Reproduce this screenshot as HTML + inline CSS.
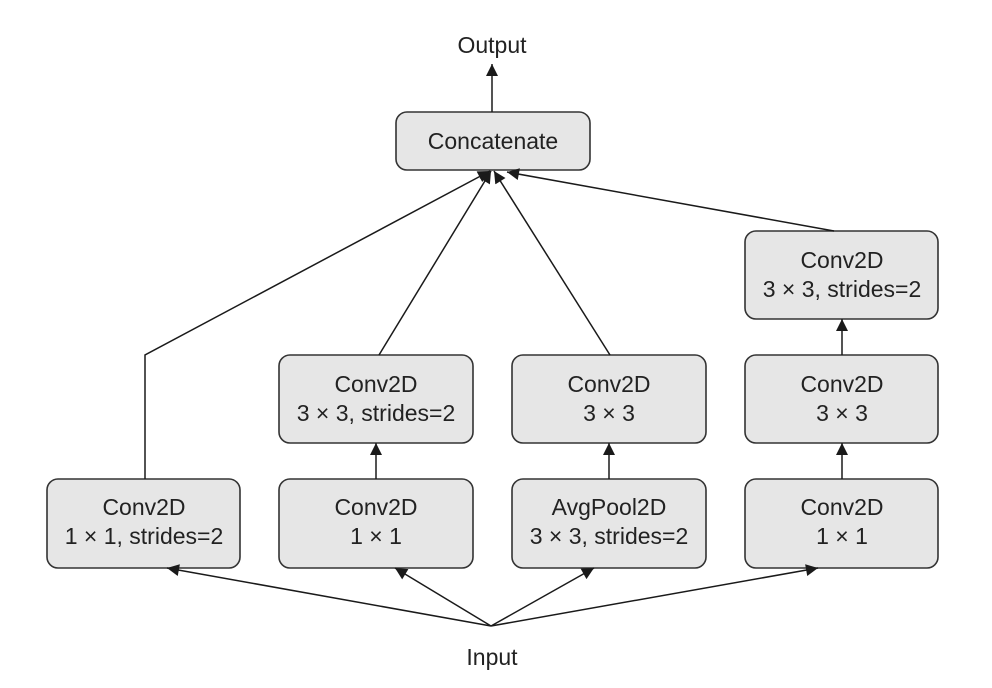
<!DOCTYPE html>
<html><head><style>html,body{margin:0;padding:0;background:#fff;}svg{display:block;}</style></head>
<body>
<svg width="992" height="688" viewBox="0 0 992 688" xmlns="http://www.w3.org/2000/svg" font-family="Liberation Sans, Arial, sans-serif" font-size="23" fill="#222">
<defs>
<marker id="a" viewBox="0 0 10 10" refX="10" refY="5" markerWidth="16" markerHeight="12" markerUnits="userSpaceOnUse" orient="auto"><path d="M0,0 L10,5 L0,10 z" fill="#1a1a1a"/></marker>
</defs>
<g stroke="#333" stroke-width="1.6" fill="#e6e6e6">
<rect x="396" y="112" width="194" height="58" rx="11"/>
<rect x="745" y="231" width="193" height="88" rx="11"/>
<rect x="279" y="355" width="194" height="88" rx="11"/>
<rect x="512" y="355" width="194" height="88" rx="11"/>
<rect x="745" y="355" width="193" height="88" rx="11"/>
<rect x="47" y="479" width="193" height="89" rx="11"/>
<rect x="279" y="479" width="194" height="89" rx="11"/>
<rect x="512" y="479" width="194" height="89" rx="11"/>
<rect x="745" y="479" width="193" height="89" rx="11"/>
</g>
<g stroke="#1a1a1a" stroke-width="1.5" fill="none" marker-end="url(#a)">
<line x1="492" y1="112" x2="492" y2="64"/>
<polyline points="145,479 145,355 490,171"/>
<line x1="379" y1="355" x2="491" y2="171"/>
<line x1="610" y1="355" x2="494" y2="171"/>
<line x1="834" y1="231" x2="507" y2="172"/>
<line x1="842" y1="355" x2="842" y2="319"/>
<line x1="842" y1="479" x2="842" y2="443"/>
<line x1="376" y1="479" x2="376" y2="443"/>
<line x1="609" y1="479" x2="609" y2="443"/>
<line x1="491" y1="626" x2="167" y2="568"/>
<line x1="491" y1="626" x2="395" y2="568"/>
<line x1="491" y1="626" x2="594" y2="568"/>
<line x1="491" y1="626" x2="818" y2="568"/>
</g>
<g text-anchor="middle">
<text x="492" y="53">Output</text>
<text x="492" y="665">Input</text>
<text x="493" y="149">Concatenate</text>
<text x="842" y="268">Conv2D</text><text x="842" y="297">3 × 3, strides=2</text>
<text x="376" y="392">Conv2D</text><text x="376" y="421">3 × 3, strides=2</text>
<text x="609" y="392">Conv2D</text><text x="609" y="421">3 × 3</text>
<text x="842" y="392">Conv2D</text><text x="842" y="421">3 × 3</text>
<text x="144" y="515">Conv2D</text><text x="144" y="544">1 × 1, strides=2</text>
<text x="376" y="515">Conv2D</text><text x="376" y="544">1 × 1</text>
<text x="609" y="515">AvgPool2D</text><text x="609" y="544">3 × 3, strides=2</text>
<text x="842" y="515">Conv2D</text><text x="842" y="544">1 × 1</text>
</g>
</svg>
</body></html>
